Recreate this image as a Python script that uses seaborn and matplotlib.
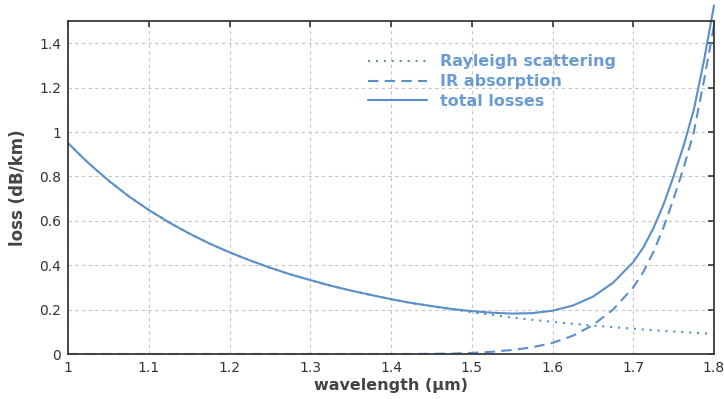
import matplotlib
matplotlib.use("Agg")
import matplotlib.pyplot as plt
import seaborn as sns
import pandas as pd

wavelength = [1.000, 1.025, 1.050, 1.075, 1.100, 1.125, 1.150, 1.175, 1.200, 1.225, 1.250,
              1.275, 1.300, 1.325, 1.350, 1.375, 1.400, 1.425, 1.450, 1.475, 1.500, 1.525,
              1.550, 1.575, 1.600, 1.625, 1.650, 1.675, 1.700, 1.7125, 1.725, 1.7375, 1.750,
              1.7625, 1.775, 1.7875, 1.800]
rayleigh = [0.950, 0.861, 0.782, 0.711, 0.649, 0.593, 0.543, 0.498, 0.458, 0.422, 0.389,
            0.359, 0.333, 0.308, 0.286, 0.266, 0.247, 0.230, 0.215, 0.201, 0.188, 0.176,
            0.164, 0.154, 0.145, 0.136, 0.128, 0.121, 0.114, 0.110, 0.107, 0.104, 0.101,
            0.098, 0.096, 0.093, 0.091]
ir_absorption = [0.0, 0.0, 0.0, 0.0, 0.0, 0.0, 0.0, 0.0, 0.0, 0.0, 0.0,
                 0.0, 0.0, 0.0, 0.0, 0.0, 0.0, 0.0, 0.001, 0.002, 0.005, 0.010,
                 0.018, 0.030, 0.050, 0.082, 0.130, 0.200, 0.300, 0.370, 0.460, 0.570, 0.700,
                 0.840, 1.000, 1.230, 1.480]
total_losses = [0.950, 0.861, 0.782, 0.711, 0.649, 0.593, 0.543, 0.498, 0.458, 0.422, 0.389,
                0.359, 0.333, 0.308, 0.286, 0.266, 0.247, 0.230, 0.216, 0.203, 0.193, 0.186,
                0.182, 0.184, 0.195, 0.218, 0.258, 0.321, 0.414, 0.480, 0.567, 0.674, 0.801,
                0.940, 1.100, 1.320, 1.570]

series_labels = ["Rayleigh scattering", "IR absorption", "total losses"]
x_ticks = [1.0, 1.1, 1.2, 1.3, 1.4, 1.5, 1.6, 1.7, 1.8]
x_tick_labels = ["1", "1.1", "1.2", "1.3", "1.4", "1.5", "1.6", "1.7", "1.8"]
y_ticks = [0, 0.2, 0.4, 0.6, 0.8, 1.0, 1.2, 1.4]
y_tick_labels = ["0", "0.2", "0.4", "0.6", "0.8", "1", "1.2", "1.4"]

df = pd.DataFrame({"wavelength": wavelength, "rayleigh": rayleigh,
                   "ir": ir_absorption, "total": total_losses})

sns.set_theme(style="white")
plt.rcParams['font.family'] = ['DejaVu Sans']

color = "#5b8fca"
fig = plt.figure(figsize=(7.24, 3.99), dpi=100)
ax = fig.add_axes([68/724, 1 - 354/399, (714 - 68)/724, (354 - 21)/399])

styles = [(0, (1, 2.8)), (0, (5, 3)), "-"]
for col, lab, ls in zip(["rayleigh", "ir", "total"], series_labels, styles):
    sns.lineplot(data=df, x="wavelength", y=col, ax=ax, color=color, linestyle=ls,
                 linewidth=1.5, label=lab, clip_on=False)

ax.set_xlim(1.0, 1.8)
ax.set_ylim(0, 1.5)
ax.set_xticks(x_ticks)
ax.set_xticklabels(x_tick_labels)
ax.set_yticks(y_ticks)
ax.set_yticklabels(y_tick_labels)
ax.grid(True, color="#c4c4c4", linestyle=(0, (3, 3)), linewidth=0.8)
ax.tick_params(direction="in", length=4, width=1.2, top=True, right=True,
               labelsize=10, labelcolor="#333333", color="#333333", pad=5)
for s in ax.spines.values():
    s.set_color("#3a3a3a")
    s.set_linewidth(1.3)

ax.set_xlabel("wavelength (µm)", fontsize=11.5, fontweight="bold", color="#444444", labelpad=2)
ax.set_ylabel("loss (dB/km)", fontsize=12, fontweight="bold", color="#444444", labelpad=9)

leg = ax.legend(loc="upper left", bbox_to_anchor=(0.464, 0.90), frameon=False,
                borderaxespad=0, borderpad=0,
                handlelength=3.7, handletextpad=0.8, labelspacing=0.3,
                prop={"weight": "bold", "size": 11.5}, labelcolor="#6a9bd3")

fig.savefig("out.png", dpi=100)
